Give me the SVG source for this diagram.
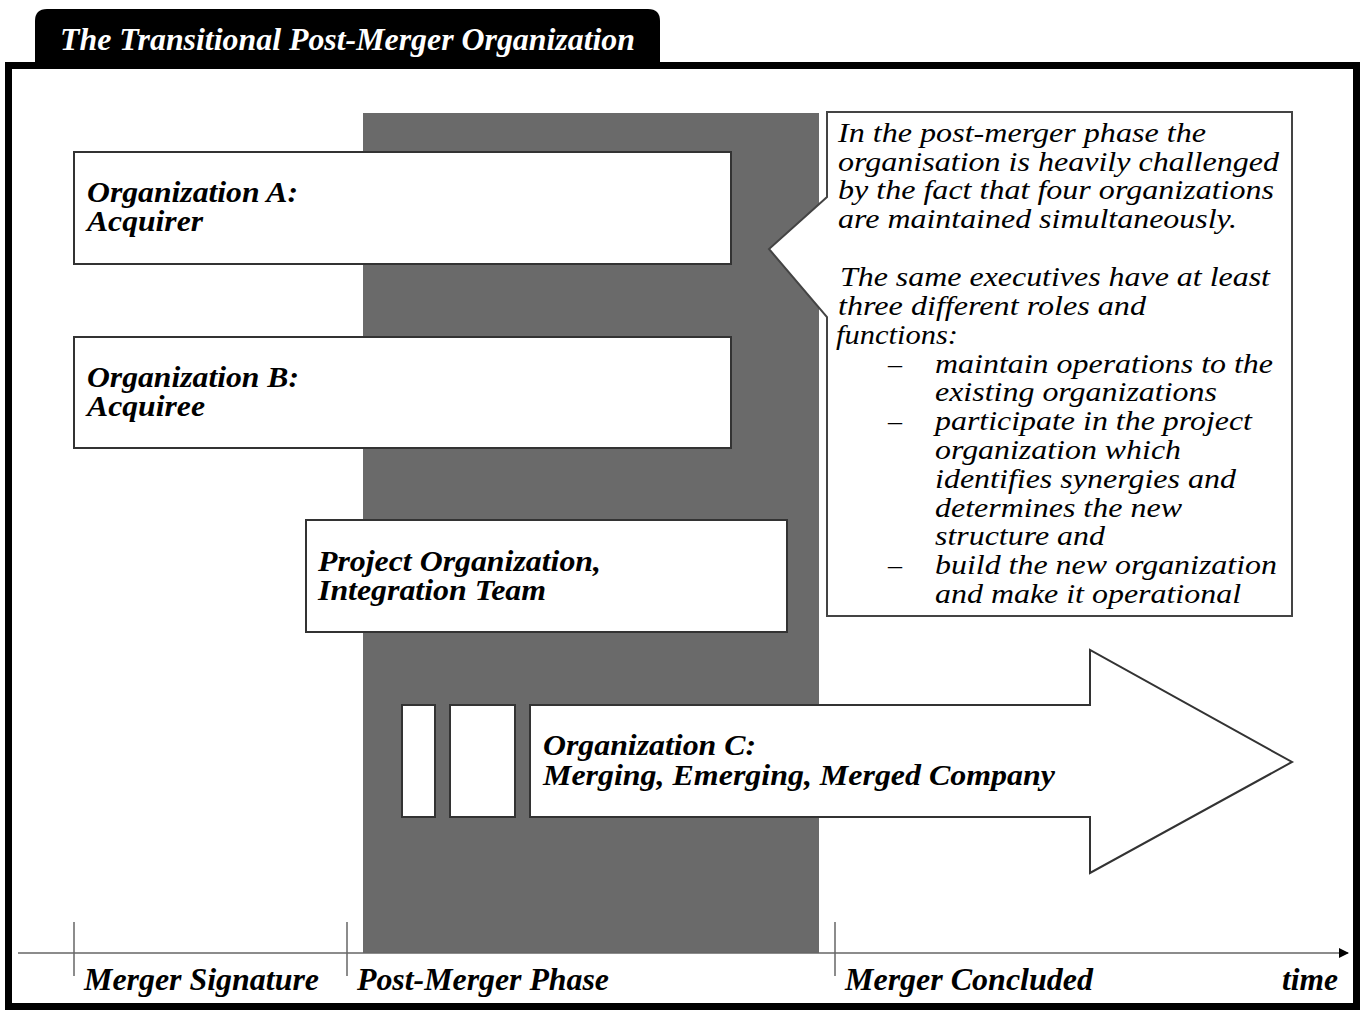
<svg xmlns="http://www.w3.org/2000/svg" width="1362" height="1010" viewBox="0 0 1362 1010">
<style>
.box{fill:#fff;stroke:#333;stroke-width:2}
.bt{font-family:'Liberation Serif',serif;font-weight:bold;font-style:italic;font-size:29px;fill:#000}
.ct{font-family:'Liberation Serif',serif;font-style:italic;font-size:28px;fill:#000}
.lab{font-family:'Liberation Serif',serif;font-weight:bold;font-style:italic;font-size:31px;fill:#000}
.tick{stroke:#666;stroke-width:1.5}
</style>
<defs>
<marker id="ah" markerWidth="10" markerHeight="10" refX="9" refY="5" orient="auto" markerUnits="userSpaceOnUse"><path d="M0,0 L10,5 L0,10 z" fill="#000"/></marker>
</defs>
<rect width="1362" height="1010" fill="#fff"/>
<g id="tab">
<path d="M35,62 L35,21 Q35,9 47,9 L648,9 Q660,9 660,21 L660,62 z" fill="#000"/>
<text x="60" y="50" font-family="Liberation Serif, serif" font-weight="bold" font-style="italic" font-size="31" fill="#fff" textLength="575" lengthAdjust="spacingAndGlyphs">The Transitional Post-Merger Organization</text>
</g>
<rect id="frame" x="8.5" y="65.5" width="1348" height="941" fill="none" stroke="#000" stroke-width="7"/>
<rect id="phase-band" x="363" y="113" width="456" height="840" fill="#6a6a6a"/>
<g id="org-a">
<rect class="box" x="74" y="152" width="657" height="112"/>
<text class="bt" x="87" y="202" textLength="211" lengthAdjust="spacingAndGlyphs">Organization A:</text>
<text class="bt" x="87" y="231" textLength="116" lengthAdjust="spacingAndGlyphs">Acquirer</text>
</g>
<g id="org-b">
<rect class="box" x="74" y="337" width="657" height="111"/>
<text class="bt" x="87" y="387" textLength="212" lengthAdjust="spacingAndGlyphs">Organization B:</text>
<text class="bt" x="87" y="416" textLength="118" lengthAdjust="spacingAndGlyphs">Acquiree</text>
</g>
<g id="project-org">
<rect class="box" x="306" y="520" width="481" height="112"/>
<text class="bt" x="318" y="571" textLength="283" lengthAdjust="spacingAndGlyphs">Project Organization,</text>
<text class="bt" x="318" y="600" textLength="228" lengthAdjust="spacingAndGlyphs">Integration Team</text>
</g>
<g id="org-c">
<rect class="box" x="402" y="705" width="33" height="112"/>
<rect class="box" x="450" y="705" width="65" height="112"/>
<path class="box" d="M530,705 L1090,705 L1090,650 L1292,762 L1090,873 L1090,817 L530,817 z"/>
<text class="bt" x="543" y="755" textLength="213" lengthAdjust="spacingAndGlyphs">Organization C:</text>
<text class="bt" x="543" y="785" textLength="512" lengthAdjust="spacingAndGlyphs">Merging, Emerging, Merged Company</text>
</g>
<g id="callout">
<path d="M827,112 L1292,112 L1292,616 L827,616 L827,317 L769,249 L827,197 z" fill="#fff" stroke="#444" stroke-width="2"/>
<text class="ct" x="838" y="142" textLength="368" lengthAdjust="spacingAndGlyphs">In the post-merger phase the</text>
<text class="ct" x="838" y="171" textLength="441" lengthAdjust="spacingAndGlyphs">organisation is heavily challenged</text>
<text class="ct" x="838" y="199" textLength="436" lengthAdjust="spacingAndGlyphs">by the fact that four organizations</text>
<text class="ct" x="838" y="228" textLength="399" lengthAdjust="spacingAndGlyphs">are maintained simultaneously.</text>
<text class="ct" x="840" y="286" textLength="430" lengthAdjust="spacingAndGlyphs">The same executives have at least</text>
<text class="ct" x="838" y="315" textLength="308" lengthAdjust="spacingAndGlyphs">three different roles and</text>
<text class="ct" x="836" y="344" textLength="122" lengthAdjust="spacingAndGlyphs">functions:</text>
<text class="ct" x="888" y="373">–</text>
<text class="ct" x="935" y="373" textLength="338" lengthAdjust="spacingAndGlyphs">maintain operations to the</text>
<text class="ct" x="935" y="401" textLength="282" lengthAdjust="spacingAndGlyphs">existing organizations</text>
<text class="ct" x="888" y="430">–</text>
<text class="ct" x="935" y="430" textLength="317" lengthAdjust="spacingAndGlyphs">participate in the project</text>
<text class="ct" x="935" y="459" textLength="246" lengthAdjust="spacingAndGlyphs">organization which</text>
<text class="ct" x="935" y="488" textLength="301" lengthAdjust="spacingAndGlyphs">identifies synergies and</text>
<text class="ct" x="935" y="517" textLength="247" lengthAdjust="spacingAndGlyphs">determines the new</text>
<text class="ct" x="935" y="545" textLength="170" lengthAdjust="spacingAndGlyphs">structure and</text>
<text class="ct" x="888" y="574">–</text>
<text class="ct" x="935" y="574" textLength="342" lengthAdjust="spacingAndGlyphs">build the new organization</text>
<text class="ct" x="935" y="603" textLength="306" lengthAdjust="spacingAndGlyphs">and make it operational</text>
</g>
<g id="connectors">
<line x1="18" y1="953" x2="1348" y2="953" stroke="#666" stroke-width="1.5" marker-end="url(#ah)"/>
<line class="tick" x1="74" y1="922" x2="74" y2="976"/>
<line class="tick" x1="347" y1="922" x2="347" y2="976"/>
<line class="tick" x1="835" y1="922" x2="835" y2="976"/>
</g>
<g id="timeline-labels">
<text class="lab" x="84" y="990" textLength="235" lengthAdjust="spacingAndGlyphs">Merger Signature</text>
<text class="lab" x="357" y="990" textLength="252" lengthAdjust="spacingAndGlyphs">Post-Merger Phase</text>
<text class="lab" x="845" y="990" textLength="248" lengthAdjust="spacingAndGlyphs">Merger Concluded</text>
<text class="lab" x="1282" y="990" textLength="56" lengthAdjust="spacingAndGlyphs">time</text>
</g>
</svg>
